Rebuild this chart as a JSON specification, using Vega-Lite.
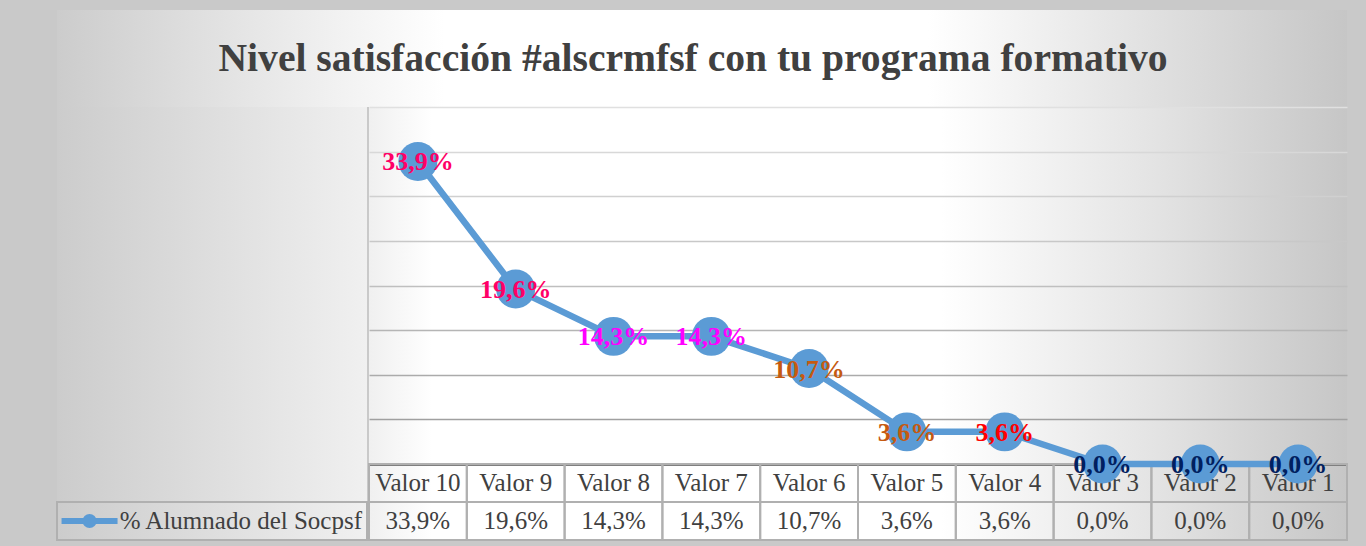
{
  "$schema": "https://vega.github.io/schema/vega-lite/v6.json",
  "background": "#c9c9c9",
  "padding": {"left": 56, "top": 10, "right": 20, "bottom": 6},
  "spacing": 0,
  "config": {
    "view": {"stroke": null},
    "concat": {"spacing": 0},
    "font": "Liberation Serif",
    "locale": {"number": {"decimal": ",", "thousands": ".", "grouping": [3], "currency": ["", " €"]}}
  },
  "datasets": {
    "main": [
      {"cat": "Valor 10", "value": 0.339},
      {"cat": "Valor 9", "value": 0.196},
      {"cat": "Valor 8", "value": 0.143},
      {"cat": "Valor 7", "value": 0.143},
      {"cat": "Valor 6", "value": 0.107},
      {"cat": "Valor 5", "value": 0.036},
      {"cat": "Valor 4", "value": 0.036},
      {"cat": "Valor 3", "value": 0.0},
      {"cat": "Valor 2", "value": 0.0},
      {"cat": "Valor 1", "value": 0.0}
    ]
  },
  "vconcat": [
    {
      "width": 1290,
      "height": 97,
      "view": {"stroke": null, "fill": {"gradient": "linear", "x1": 0, "y1": 0, "x2": 1, "y2": 0, "stops": [{"offset": 0, "color": "#cccccc"}, {"offset": 0.15, "color": "#e6e6e6"}, {"offset": 0.3, "color": "#ffffff"}, {"offset": 0.675, "color": "#ffffff"}, {"offset": 0.84, "color": "#e2e2e2"}, {"offset": 1, "color": "#c6c6c6"}]}},
      "data": {"values": [{"t": "Nivel satisfacción #alscrmfsf con tu programa formativo"}]},
      "mark": {"type": "text", "font": "Liberation Serif", "fontSize": 39.6, "fontWeight": "bold", "color": "#404040", "baseline": "middle", "dx": -9},
      "encoding": {"text": {"field": "t"}}
    },
    {
      "hconcat": [
        {
          "vconcat": [
            {
              "width": 310,
              "height": 357,
              "view": {"stroke": null, "fill": {"gradient": "linear", "x1": 0, "y1": 0, "x2": 1, "y2": 0, "stops": [{"offset": 0, "color": "#cccccc"}, {"offset": 1, "color": "#f0f0f0"}]}},
              "data": {"values": [{"t": ""}]},
              "mark": {"type": "text"},
              "encoding": {"text": {"field": "t"}}
            },
            {
              "width": 310,
              "height": 76,
              "view": {"stroke": null, "fill": {"gradient": "linear", "x1": 0, "y1": 0, "x2": 1, "y2": 0, "stops": [{"offset": 0, "color": "#cccccc"}, {"offset": 1, "color": "#f0f0f0"}]}},
              "data": {"values": [{"series": "% Alumnado del Socpsf"}]},
              "encoding": {
                "y": {"datum": "val", "type": "nominal", "scale": {"type": "band", "domain": ["cat", "val"], "paddingInner": 0, "paddingOuter": 0}, "axis": null}
              },
              "layer": [
                {
                  "mark": {"type": "rect", "filled": false, "color": "#b0b0b0", "strokeWidth": 2},
                  "encoding": {
                    "x": {"datum": 0, "type": "quantitative", "scale": {"domain": [0, 1], "nice": false}, "axis": null},
                    "x2": {"datum": 1}
                  }
                },
                {
                  "mark": {"type": "point", "shape": "M-1,-0.11H1V0.11H-1Z", "size": 3136, "filled": true, "color": "#5B9BD5", "opacity": 1},
                  "encoding": {"x": {"datum": 0.105, "type": "quantitative"}}
                },
                {
                  "mark": {"type": "circle", "size": 200, "color": "#5B9BD5", "opacity": 1},
                  "encoding": {"x": {"datum": 0.105, "type": "quantitative"}}
                },
                {
                  "mark": {"type": "text", "font": "Liberation Serif", "fontSize": 25, "color": "#404040", "align": "right", "baseline": "middle", "dx": -5},
                  "encoding": {"x": {"datum": 1, "type": "quantitative"}, "text": {"field": "series"}}
                }
              ]
            }
          ],
          "spacing": 0,
          "bounds": "flush"
        },
        {
          "width": 978,
          "height": 433,
          "view": {"stroke": null, "fill": {"gradient": "linear", "x1": 0, "y1": 0, "x2": 1, "y2": 0, "stops": [{"offset": 0, "color": "#f0f0f0"}, {"offset": 0.065, "color": "#ffffff"}, {"offset": 0.585, "color": "#ffffff"}, {"offset": 0.8, "color": "#e4e4e4"}, {"offset": 1, "color": "#c6c6c6"}]}},
          "data": {"name": "main"},
          "encoding": {
            "x": {"field": "cat", "type": "nominal", "sort": null, "scale": {"type": "band", "paddingInner": 0, "paddingOuter": 0}, "axis": null}
          },
          "layer": [
            {
              "encoding": {
                "y": {"datum": "cat", "type": "nominal", "scale": {"type": "band", "domain": ["b1", "b2", "b3", "b4", "b5", "b6", "b7", "b8", "b9", "cat", "val"], "paddingInner": 0, "paddingOuter": 0.197, "align": 1}, "axis": null}
              },
              "layer": [
                {
                  "mark": {"type": "rect", "filled": false, "color": "#b0b0b0", "strokeWidth": 2}
                },
                {
                  "mark": {"type": "rect", "filled": false, "color": "#b0b0b0", "strokeWidth": 2},
                  "encoding": {"y": {"datum": "val", "type": "nominal"}}
                },
                {
                  "mark": {"type": "text", "font": "Liberation Serif", "fontSize": 25, "color": "#404040", "baseline": "middle", "align": "center"},
                  "encoding": {"text": {"field": "cat"}}
                },
                {
                  "mark": {"type": "text", "font": "Liberation Serif", "fontSize": 25, "color": "#404040", "baseline": "middle", "align": "center"},
                  "encoding": {"y": {"datum": "val", "type": "nominal"}, "text": {"field": "value", "type": "quantitative", "format": ".1%"}}
                }
              ]
            },
            {
              "encoding": {
                "y": {
                  "field": "value", "type": "quantitative",
                  "scale": {"domain": [-0.08515, 0.4], "nice": false, "zero": false},
                  "axis": {
                    "values": [0, 0.05, 0.1, 0.15, 0.2, 0.25, 0.3, 0.35, 0.4],
                    "labels": false, "ticks": false, "domain": false, "title": null, "grid": true,
                    "gridWidth": {"condition": {"test": "datum.value === 0", "value": 3}, "value": 1.5},
                    "gridColor": {"condition": [
                      {"test": "datum.value === 0", "value": "#7f7f7f"},
                      {"test": "datum.value >= 0.375", "value": "#e0e0e0"},
                      {"test": "datum.value >= 0.325", "value": "#d8d8d8"},
                      {"test": "datum.value >= 0.275", "value": "#d0d0d0"},
                      {"test": "datum.value >= 0.225", "value": "#c8c8c8"},
                      {"test": "datum.value >= 0.175", "value": "#bfbfbf"},
                      {"test": "datum.value >= 0.125", "value": "#b5b5b5"},
                      {"test": "datum.value >= 0.075", "value": "#ababab"}
                    ], "value": "#a0a0a0"}
                  }
                }
              },
              "layer": [
                {"mark": {"type": "line", "color": "#5B9BD5", "strokeWidth": 6.5, "strokeJoin": "round"}},
                {"mark": {"type": "circle", "size": 1520, "color": "#5B9BD5", "opacity": 1}},
                {
                  "mark": {"type": "text", "font": "Liberation Serif", "fontWeight": "bold", "fontSize": 26, "baseline": "middle", "align": "center", "dy": 1},
                  "encoding": {
                    "text": {"field": "value", "type": "quantitative", "format": ".1%"},
                    "color": {
                      "field": "cat", "type": "nominal",
                      "scale": {
                        "domain": ["Valor 10", "Valor 9", "Valor 8", "Valor 7", "Valor 6", "Valor 5", "Valor 4", "Valor 3", "Valor 2", "Valor 1"],
                        "range": ["#FF0066", "#FF0066", "#FF00FF", "#FF00FF", "#C55A11", "#C55A11", "#FF0000", "#002060", "#002060", "#002060"]
                      },
                      "legend": null
                    }
                  }
                }
              ]
            }
          ],
          "resolve": {"scale": {"y": "independent"}, "axis": {"y": "independent"}}
        }
      ],
      "spacing": 0
    }
  ]
}
